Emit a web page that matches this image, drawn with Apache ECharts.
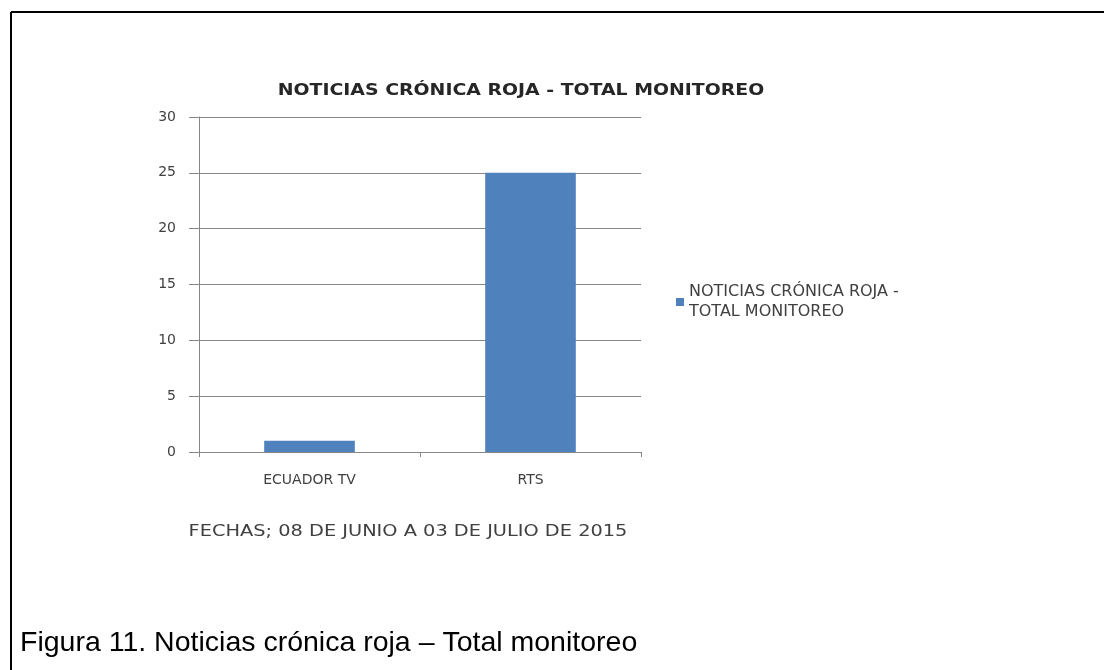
<!DOCTYPE html>
<html><head><meta charset="utf-8">
<script src="https://cdn.jsdelivr.net/npm/echarts@6/dist/echarts.min.js"></script>
<style>html,body{margin:0;padding:0;background:#fff}#c{width:1104px;height:670px}</style>
</head><body><div id="c"></div>
<script>
const categories = ['ECUADOR TV', 'RTS'];
const seriesName = 'NOTICIAS CRÓNICA ROJA - TOTAL MONITOREO';
const values = [1, 25];
const chartTitle = 'NOTICIAS CRÓNICA ROJA - TOTAL MONITOREO';
const xAxisTitle = 'FECHAS; 08 DE JUNIO A 03 DE JULIO DE 2015';
const caption = 'Figura 11. Noticias crónica roja – Total monitoreo';

const chart = echarts.init(document.getElementById('c'));
const font = '"DejaVu Sans", sans-serif';
chart.setOption({
  backgroundColor: '#fff',
  animation: false,
  title: [
    { text: caption, left: 15, top: 624,
      textStyle: { fontFamily: 'Liberation Sans, Arial, sans-serif', fontSize: 28.5, fontWeight: 'normal', color: '#000' } }
  ],
  graphic: [
    { type: 'line', shape: { x1: 11, y1: 12, x2: 1104, y2: 12 }, style: { stroke: '#000', lineWidth: 2 } },
    { type: 'line', shape: { x1: 11, y1: 12, x2: 11, y2: 670 }, style: { stroke: '#000', lineWidth: 2 } },
    { type: 'text', x: 521, y: 91, scaleX: 1.18,
      style: { text: chartTitle, x: 0, y: 0, align: 'center', verticalAlign: 'middle',
        font: 'bold 16px "DejaVu Sans", sans-serif', fill: '#262626' } },
    { type: 'text', x: 408, y: 532, scaleX: 1.29,
      style: { text: xAxisTitle, x: 0, y: 0, align: 'center', verticalAlign: 'middle',
        font: '15px "DejaVu Sans", sans-serif', fill: '#404040' } }
  ],
  legend: {
    left: 671, top: 277, orient: 'vertical',
    icon: 'rect', itemWidth: 8, itemHeight: 8, itemGap: 4,
    formatter: n => n.replace('- ', '-\n'),
    textStyle: { fontFamily: font, fontSize: 16, color: '#404040', lineHeight: 20 }
  },
  grid: { left: 199, right: 463, top: 117, bottom: 218, containLabel: false },
  xAxis: {
    type: 'category', data: categories,
    axisLine: { lineStyle: { color: '#868686', width: 1 } },
    axisTick: { show: true, alignWithLabel: false, length: 5, lineStyle: { color: '#868686' } },
    axisLabel: { fontFamily: font, fontSize: 14, color: '#404040', margin: 21 }
  },
  yAxis: {
    type: 'value', min: 0, max: 30, interval: 5,
    axisLine: { show: true, lineStyle: { color: '#868686', width: 1 } },
    axisTick: { show: true, length: 10, lineStyle: { color: '#868686' } },
    axisLabel: { fontFamily: font, fontSize: 14, color: '#404040', margin: 23 },
    splitLine: { lineStyle: { color: '#868686', width: 1 } }
  },
  series: [{
    name: seriesName, type: 'bar', data: values, barWidth: '41%',
    itemStyle: { color: '#4F81BD' }
  }]
});
</script></body></html>
